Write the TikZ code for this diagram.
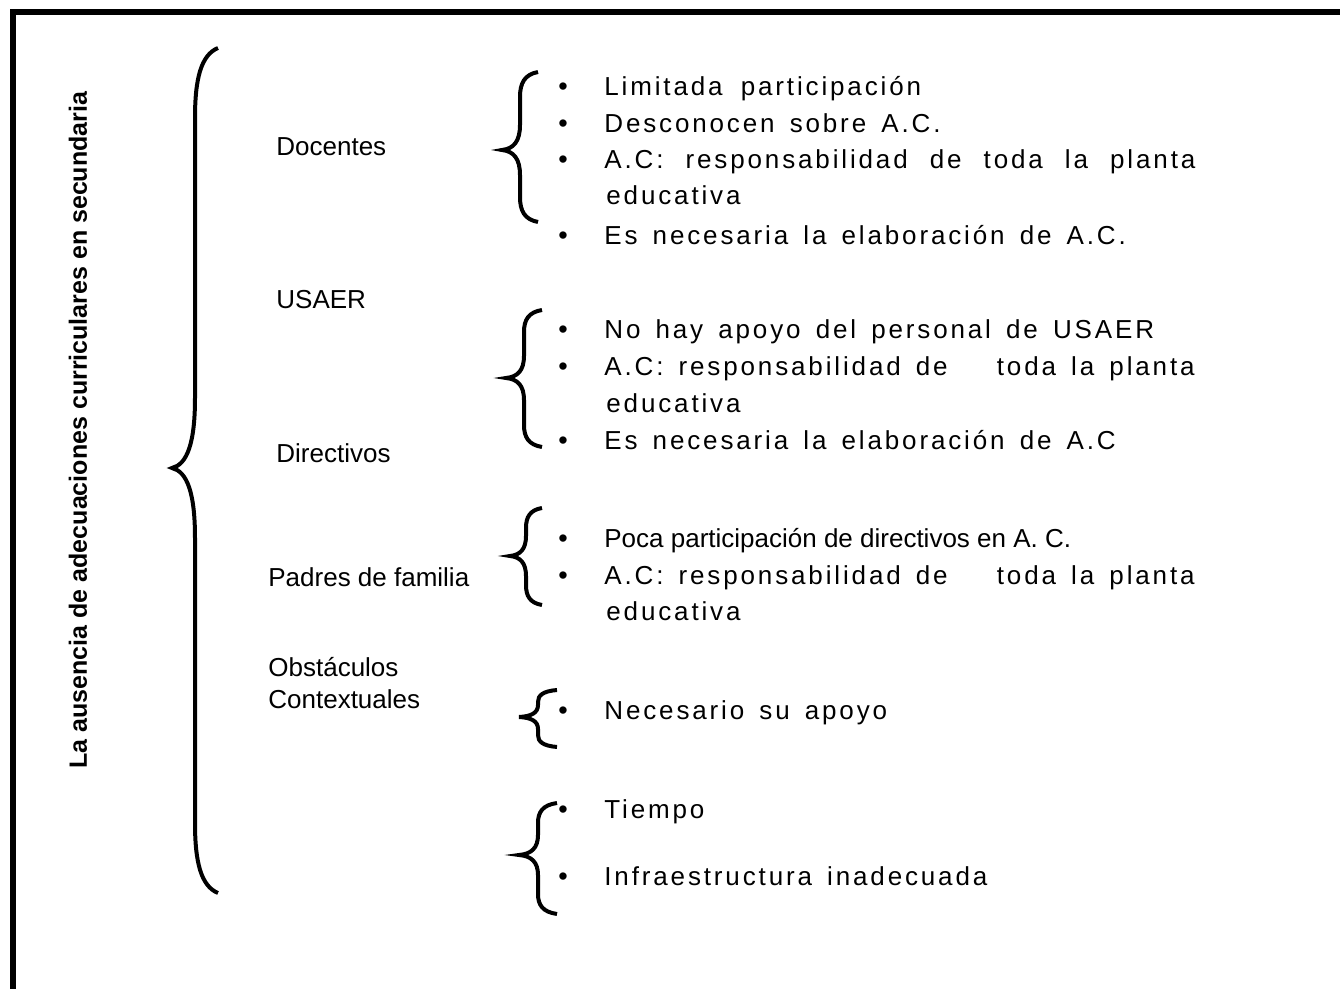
\documentclass[tikz,border=0pt]{standalone}
\usepackage{fontspec}
\setmainfont{Liberation Sans}
\newfontfamily\spaced[LetterSpace=11,WordSpace=1.5]{Liberation Sans}
\tikzset{
    frame/.style={line width=3pt},
    title/.style={rotate=90,inner sep=0pt,font=\fontsize{12.5}{15}\selectfont\bfseries},
    group/.style={anchor=west,inner sep=0pt,align=left,font=\fontsize{13}{16}\selectfont},
    item/.style={anchor=base west,inner sep=0pt,font=\spaced\fontsize{13}{16}\selectfont},
    itemend/.style={anchor=base east,inner sep=0pt,font=\spaced\fontsize{13}{16}\selectfont},
    plainitem/.style={anchor=base west,inner sep=0pt,font=\fontsize{13}{16}\selectfont},
    dot/.style={anchor=base,inner sep=0pt,font=\fontsize{13.5}{16}\selectfont},
    bracestroke/.style={line width=2pt},
    pics/curly/.style n args={4}{code={
      \draw[bracestroke] (0,0) .. controls (-0.75*#3,0.1*#4) and (-#3,0.45*#4) .. (-#3,#4)
        -- (-#3,#2-#4)
        .. controls (-#3,#2-0.35*#4) and (-1.35*#3,#2-0.05*#4) .. (-2*#3,#2)
        .. controls (-1.35*#3,#2+0.05*#4) and (-#3,#2+0.35*#4) .. (-#3,#2+#4)
        -- (-#3,#1-#4)
        .. controls (-#3,#1-0.45*#4) and (-0.75*#3,#1-0.1*#4) .. (0,#1);
    }},
}

\begin{document}
\begin{tikzpicture}[x=0.5pt,y=-0.5pt]
   \useasboundingbox (0,0) rectangle (1340,989);
   \draw[frame] (13,989) -- (13,12) -- (1340,12);

   % main topic and its brace
   \node[title] (tema) at (78,430) {La ausencia de adecuaciones curriculares en secundaria};
   \pic at (218,48) {curly={845}{420}{23}{70}};

   \node[group] (docentes) at (276,147) {Docentes};
   \node[group] (usaer) at (276,300) {USAER};
   \node[group] (directivos) at (276,453) {Directivos};
   \node[group] (padres) at (268,577) {Padres de familia};
   \node[group] (obstaculos) at (268,683) {Obstáculos\\Contextuales};

   % docentes
   \pic at (538,72) {curly={150}{78}{18}{25}};
   \node[dot] (d1) at (563,96) {•};
   \node[item] (limitada) at (604,96) {Limitada\hspace{1.5pt} participación};
   \node[dot] (d2) at (563,133) {•};
   \node[item] (desconocen) at (604,133) {Desconocen sobre A.C.};
   \node[dot] (d3) at (563,169) {•};
   \node[item] (resp1) at (604,169) {\makebox[295.5pt][s]{A.C: responsabilidad de toda la planta}};
   \node[item] (educ1) at (606,205) {educativa};
   \node[dot] (d4) at (563,245) {•};
   \node[item] (necesaria1) at (604,245) {Es necesaria la elaboración de A.C.};

   % usaer
   \pic at (542,310) {curly={137}{68}{18}{22}};
   \node[dot] (u1) at (563,339) {•};
   \node[item] (apoyo) at (604,339) {No hay apoyo del personal de USAER};
   \node[dot] (u2) at (563,376) {•};
   \node[item] (resp2) at (604,376) {A.C: responsabilidad de};
   \node[itemend] (planta2) at (1195,376) {toda la planta};
   \node[item] (educ2) at (606,413) {educativa};
   \node[dot] (u3) at (563,450) {•};
   \node[item] (necesaria2) at (604,450) {Es necesaria la elaboración de A.C};

   % directivos
   \pic at (542,508) {curly={97}{48}{16}{20}};
   \node[dot] (r1) at (563,548) {•};
   \node[plainitem] (poca) at (604,548) {Poca participación de directivos en A. C.};
   \node[dot] (r2) at (563,585) {•};
   \node[item] (resp3) at (604,585) {A.C: responsabilidad de};
   \node[itemend] (planta3) at (1195,585) {toda la planta};
   \node[item] (educ3) at (606,621) {educativa};

   % padres de familia
   \pic at (557,690) {curly={57}{27}{19}{12}};
   \node[dot] (p1) at (563,719) {•};
   \node[item] (necesario) at (604,719) {Necesario su apoyo};

   % obstaculos
   \pic at (557,803) {curly={111}{52}{19}{20}};
   \node[dot] (o1) at (563,818) {•};
   \node[item] (tiempo) at (604,818) {Tiempo};
   \node[dot] (o2) at (563,885) {•};
   \node[item] (infra) at (604,885) {Infraestructura inadecuada};
\end{tikzpicture}
\end{document}
